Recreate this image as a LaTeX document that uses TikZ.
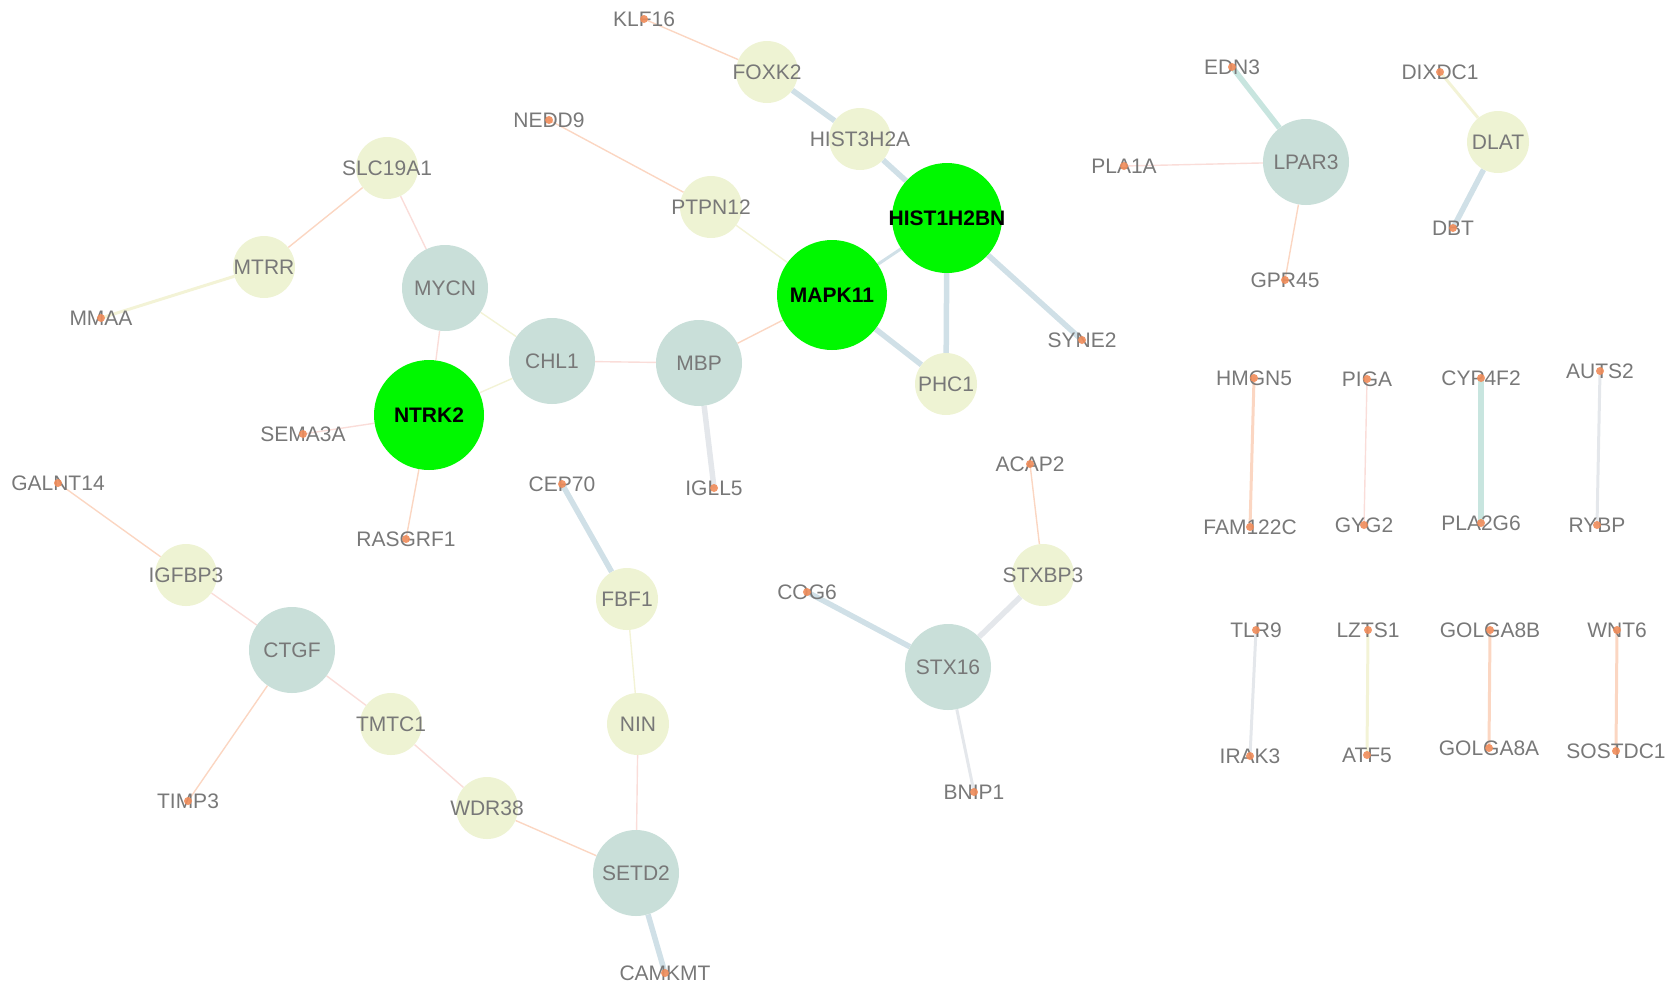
\documentclass[tikz,border=0pt]{standalone}
\usepackage{fontspec}
\setmainfont{Liberation Sans}
\usetikzlibrary{backgrounds}
\definecolor{gnode}{RGB}{0,248,0}
\definecolor{tnode}{RGB}{201,223,217}
\definecolor{ynode}{RGB}{238,243,211}
\definecolor{txt}{RGB}{120,120,120}
\definecolor{dotc}{RGB}{240,140,90}
\definecolor{eblue}{RGB}{208,224,231}
\definecolor{eteal}{RGB}{200,229,223}
\definecolor{egray}{RGB}{228,231,235}
\definecolor{eorange}{RGB}{251,214,194}
\definecolor{epink}{RGB}{250,221,217}
\definecolor{eyellow}{RGB}{243,243,214}
\tikzset{
  lt/.style={inner sep=0pt, font=\fontsize{21}{25}\selectfont, text=txt},
  ltb/.style={inner sep=0pt, font=\fontsize{21}{25}\selectfont\bfseries, text=black},
  hub/.style={circle, inner sep=0pt, fill=gnode, minimum size=110pt, label={[ltb]center:#1}},
  mid/.style={circle, inner sep=0pt, fill=tnode, minimum size=86pt, label={[lt]center:#1}},
  leaf/.style={circle, inner sep=0pt, fill=ynode, minimum size=62pt, label={[lt]center:#1}},
  dotn/.style={circle, inner sep=0pt, fill=dotc, fill opacity=0.9, minimum size=8pt},
  gene/.style={lt, label={[dotn]center:}},
  ethin/.style={line width=1.4pt},
  emed/.style={line width=3pt},
  ethick/.style={line width=5.5pt},
}
\begin{document}
\begin{tikzpicture}[x=1pt, y=-1pt, line cap=round]
\useasboundingbox (0,0) rectangle (1677,994);
% hubs
\node[hub=HIST1H2BN] (hist1) at (947,218) {};
\node[hub=MAPK11] (mapk11) at (832,295) {};
\node[hub=NTRK2] (ntrk2) at (429,415) {};
% mid nodes
\node[mid=MYCN] (mycn) at (445,288) {};
\node[mid=CHL1] (chl1) at (552,361) {};
\node[mid=MBP] (mbp) at (699,363) {};
\node[mid=LPAR3] (lpar3) at (1306,162) {};
\node[mid=CTGF] (ctgf) at (292,650) {};
\node[mid=STX16] (stx16) at (948,667) {};
\node[mid=SETD2] (setd2) at (636,873) {};
% leaf nodes
\node[leaf=SLC19A1] (slc) at (387,168) {};
\node[leaf=MTRR] (mtrr) at (264,267) {};
\node[leaf=FOXK2] (foxk2) at (767,72) {};
\node[leaf=HIST3H2A] (hist3) at (860,139) {};
\node[leaf=PTPN12] (ptpn12) at (711,207) {};
\node[leaf=PHC1] (phc1) at (946,384) {};
\node[leaf=DLAT] (dlat) at (1498,142) {};
\node[leaf=IGFBP3] (igfbp3) at (186,575) {};
\node[leaf=TMTC1] (tmtc1) at (391,724) {};
\node[leaf=WDR38] (wdr38) at (487,808) {};
\node[leaf=FBF1] (fbf1) at (627,599) {};
\node[leaf=NIN] (nin) at (638,724) {};
\node[leaf=STXBP3] (stxbp3) at (1043,575) {};
% genes with dots
\node[gene] (klf16) at (644,19) {KLF16};
\node[gene] (nedd9) at (549,120) {NEDD9};
\node[gene] (mmaa) at (101,318) {MMAA};
\node[gene] (sema3a) at (303,434) {SEMA3A};
\node[gene] (galnt14) at (58,483) {GALNT14};
\node[gene] (rasgrf1) at (406,539) {RASGRF1};
\node[gene] (cep70) at (562,484) {CEP70};
\node[gene] (igll5) at (714,488) {IGLL5};
\node[gene] (syne2) at (1082,340) {SYNE2};
\node[gene] (acap2) at (1030,464) {ACAP2};
\node[gene] (cog6) at (807,592) {COG6};
\node[gene] (bnip1) at (974,792) {BNIP1};
\node[gene] (timp3) at (188,801) {TIMP3};
\node[gene] (camkmt) at (665,973) {CAMKMT};
\node[gene] (edn3) at (1232,67) {EDN3};
\node[gene] (pla1a) at (1124,166) {PLA1A};
\node[gene] (gpr45) at (1285,280) {GPR45};
\node[gene] (dixdc1) at (1440,72) {DIXDC1};
\node[gene] (dbt) at (1453,228) {DBT};
\node[gene] (hmgn5) at (1254,378) {HMGN5};
\node[gene] (fam122c) at (1250,527) {FAM122C};
\node[gene] (piga) at (1367,379) {PIGA};
\node[gene] (gyg2) at (1364,525) {GYG2};
\node[gene] (cyp4f2) at (1481,378) {CYP4F2};
\node[gene] (pla2g6) at (1481,523) {PLA2G6};
\node[gene] (auts2) at (1600,371) {AUTS2};
\node[gene] (rybp) at (1597,525) {RYBP};
\node[gene] (tlr9) at (1256,630) {TLR9};
\node[gene] (irak3) at (1250,756) {IRAK3};
\node[gene] (lzts1) at (1368,630) {LZTS1};
\node[gene] (atf5) at (1367,755) {ATF5};
\node[gene] (golga8b) at (1490,630) {GOLGA8B};
\node[gene] (golga8a) at (1489,748) {GOLGA8A};
\node[gene] (wnt6) at (1617,630) {WNT6};
\node[gene] (sostdc1) at (1616,751) {SOSTDC1};
\begin{scope}[on background layer]
\draw[eorange, ethin] (klf16.center) -- (foxk2);
\draw[eblue, ethick] (foxk2) -- (hist3);
\draw[eblue, ethick] (hist3) -- (hist1);
\draw[eorange, ethin] (nedd9.center) -- (ptpn12);
\draw[eyellow, ethin] (ptpn12) -- (mapk11);
\draw[eblue, emed] (hist1) -- (mapk11);
\draw[eblue, ethick] (hist1) -- (phc1);
\draw[eblue, ethick] (hist1) -- (syne2.center);
\draw[eblue, ethick] (mapk11) -- (phc1);
\draw[eorange, ethin] (mapk11) -- (mbp);
\draw[epink, ethin] (mbp) -- (chl1);
\draw[egray, ethick] (mbp) -- (igll5.center);
\draw[eyellow, ethin] (chl1) -- (mycn);
\draw[eyellow, ethin] (chl1) -- (ntrk2);
\draw[epink, ethin] (mycn) -- (slc);
\draw[epink, ethin] (mycn) -- (ntrk2);
\draw[eorange, ethin] (slc) -- (mtrr);
\draw[eyellow, emed] (mtrr) -- (mmaa.center);
\draw[epink, ethin] (ntrk2) -- (sema3a.center);
\draw[eorange, ethin] (ntrk2) -- (rasgrf1.center);
\draw[eorange, ethin] (galnt14.center) -- (igfbp3);
\draw[epink, ethin] (igfbp3) -- (ctgf);
\draw[epink, ethin] (ctgf) -- (tmtc1);
\draw[eorange, ethin] (ctgf) -- (timp3.center);
\draw[epink, ethin] (tmtc1) -- (wdr38);
\draw[eorange, ethin] (wdr38) -- (setd2);
\draw[eblue, ethick] (cep70.center) -- (fbf1);
\draw[eyellow, ethin] (fbf1) -- (nin);
\draw[epink, ethin] (nin) -- (setd2);
\draw[eblue, ethick] (setd2) -- (camkmt.center);
\draw[eorange, ethin] (acap2.center) -- (stxbp3);
\draw[egray, ethick] (stxbp3) -- (stx16);
\draw[eblue, ethick] (cog6.center) -- (stx16);
\draw[egray, emed] (stx16) -- (bnip1.center);
\draw[eteal, ethick] (edn3.center) -- (lpar3);
\draw[epink, ethin] (pla1a.center) -- (lpar3);
\draw[eorange, ethin] (lpar3) -- (gpr45.center);
\draw[eyellow, emed] (dixdc1.center) -- (dlat);
\draw[eblue, ethick] (dlat) -- (dbt.center);
\draw[eorange, emed] (hmgn5.center) -- (fam122c.center);
\draw[epink, ethin] (piga.center) -- (gyg2.center);
\draw[eteal, ethick] (cyp4f2.center) -- (pla2g6.center);
\draw[egray, emed] (auts2.center) -- (rybp.center);
\draw[egray, emed] (tlr9.center) -- (irak3.center);
\draw[eyellow, emed] (lzts1.center) -- (atf5.center);
\draw[eorange, emed] (golga8b.center) -- (golga8a.center);
\draw[eorange, emed] (wnt6.center) -- (sostdc1.center);
\end{scope}
\end{tikzpicture}
\end{document}
